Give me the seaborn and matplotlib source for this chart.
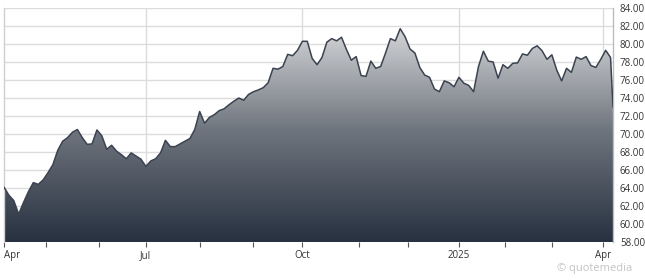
import numpy as np
import pandas as pd
import seaborn as sns
import matplotlib
matplotlib.use("Agg")
import matplotlib.pyplot as plt
from matplotlib.colors import LinearSegmentedColormap

# Closing prices sampled every second trading day (Apr 2024 - Apr 2025), last point = final day
prices = [
    64.1, 63.2, 62.6, 61.1, 62.4, 63.6, 64.6, 64.4, 64.9, 65.7,
    66.6, 68.2, 69.2, 69.6, 70.2, 70.5, 69.6, 68.85, 68.9, 70.45,
    69.8, 68.3, 68.75, 68.1, 67.7, 67.25, 67.9, 67.55, 67.2, 66.4,
    67.0, 67.25, 67.9, 69.3, 68.6, 68.6, 68.9, 69.2, 69.5, 70.5,
    72.5, 71.2, 71.85, 72.15, 72.6, 72.8, 73.25, 73.65, 74.0, 73.75,
    74.4, 74.7, 74.9, 75.15, 75.7, 77.3, 77.2, 77.5, 78.85, 78.7,
    79.3, 80.3, 80.3, 78.4, 77.7, 78.5, 80.2, 80.6, 80.35, 80.75,
    79.4, 78.2, 78.6, 76.5, 76.4, 78.1, 77.3, 77.5, 79.0, 80.6,
    80.35, 81.7, 80.8, 79.45, 79.0, 77.4, 76.55, 76.3, 75.0, 74.7,
    75.9, 75.7, 75.25, 76.3, 75.65, 75.4, 74.7, 77.5, 79.2, 78.1,
    78.0, 76.2, 77.7, 77.3, 77.85, 77.9, 78.9, 78.75, 79.5, 79.8,
    79.25, 78.3, 78.8, 77.1, 75.9, 77.3, 76.85, 78.55, 78.3, 78.6,
    77.6, 77.4, 78.3, 79.3, 78.5, 73.0,
]
trading_day = list(range(0, 249, 2)) + [249]

major_tick_days = [0, 58, 122, 186, 245]
major_tick_labels = ["Apr", "Jul", "Oct", "2025", "Apr"]
minor_tick_days = [17, 39, 80, 102, 145, 165, 205, 224]
y_ticks = [58 + 2 * i for i in range(14)]

df = pd.DataFrame({"day": trading_day, "price": prices})

sns.set_theme(style="white")
plt.rcParams["font.family"] = ["Open Sans", "DejaVu Sans"]

fig = plt.figure(figsize=(6.45, 2.8), dpi=100)
ax = fig.add_axes([4 / 645, 1 - 242 / 280, 609 / 645, 234 / 280])

ymin, ymax = 58, 84
xmin, xmax = 0, 249
ax.set_xlim(xmin, xmax)
ax.set_ylim(ymin, ymax)

# gridlines
for y in y_ticks:
    ax.axhline(y, color="#dcdcdc", lw=1.0, zorder=0)
for d in major_tick_days[1:]:
    ax.axvline(d, color="#dcdcdc", lw=1.0, zorder=0)

# gradient fill under curve
poly = ax.fill_between(df["day"], df["price"], ymin, color="none", lw=0)
cmap = LinearSegmentedColormap.from_list("g", ["#273140", "#6e747d", "#dadbdd"])
grad = np.linspace(0, 1, 256).reshape(-1, 1)
im = ax.imshow(grad, cmap=cmap, origin="lower", aspect="auto",
               extent=[xmin, xmax, ymin, 82.5], zorder=1)
path = poly.get_paths()[0]
im.set_clip_path(path, transform=ax.transData)

sns.lineplot(data=df, x="day", y="price", ax=ax, color="#3b4350", lw=1.1, zorder=3)

# axes styling
for s in ["top", "bottom"]:
    ax.spines[s].set_visible(False)
ax.spines["left"].set_color("#cfcfcf")
ax.spines["right"].set_color("#bdbdbd")
ax.spines["left"].set_linewidth(1.0)
ax.spines["right"].set_linewidth(1.0)

ax.yaxis.tick_right()
ax.set_yticks(y_ticks)
ax.set_yticklabels([f"{v:.2f}" for v in y_ticks])
ax.tick_params(axis="y", length=0, pad=5, labelsize=7, labelcolor="#333333")

ax.set_xticks(major_tick_days)
ax.set_xticklabels(major_tick_labels)
ax.set_xticks(minor_tick_days, minor=True)
ax.tick_params(axis="x", which="both", bottom=True, length=3.5, width=0.8,
               color="#555555", labelsize=7, labelcolor="#333333", pad=2)
ax.xaxis.get_majorticklabels()[0].set_horizontalalignment("left")
ax.set_xlabel("")
ax.set_ylabel("")

fig.text(632 / 645, 1 - 268 / 280, "\u00a9 quotemedia", ha="right", va="center",
         fontsize=8, color="#c4c4c4")

fig.savefig("out.png", dpi=100)
